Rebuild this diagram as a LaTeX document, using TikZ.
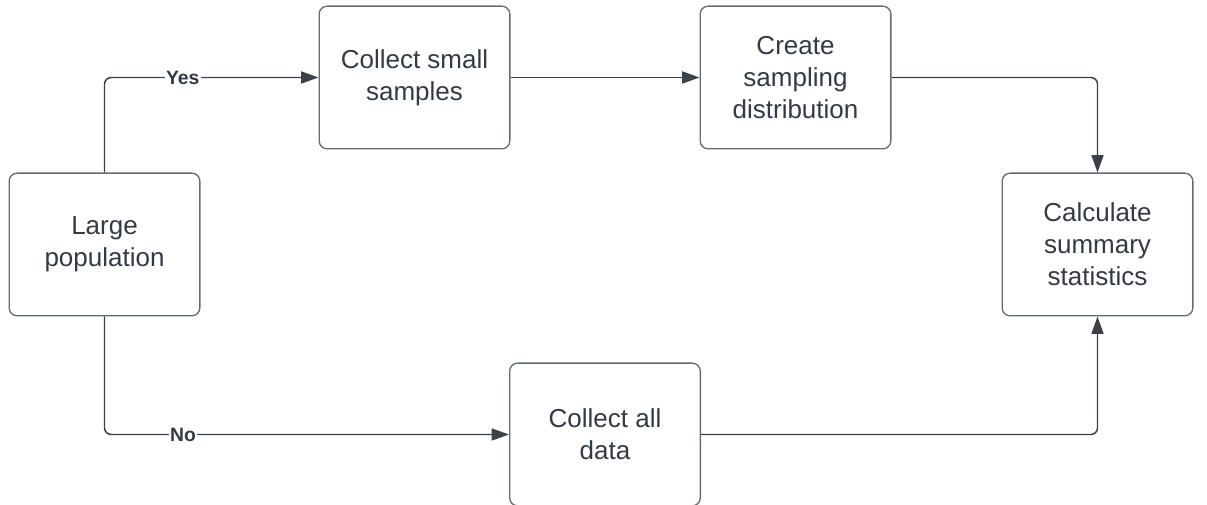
\documentclass[tikz,border=0pt]{standalone}
\usepackage{fontspec}
\setmainfont{Liberation Sans}
\usetikzlibrary{arrows.meta}
\definecolor{linegray}{HTML}{3B4049}
\definecolor{boxgray}{HTML}{656B73}
\definecolor{textgray}{HTML}{333A44}

\tikzset{every picture/.style={line width=1.1pt}}
\tikzset{stepbox/.style={draw=boxgray, line width=1pt, rounded corners=6pt, minimum width=143pt, minimum height=107pt, align=center, text=textgray, font=\fontsize{19.5}{24}\selectfont, inner sep=0pt}}
\tikzset{flow/.style={draw=linegray, rounded corners=5pt, -{Triangle[length=13pt,width=9pt]}}}
\tikzset{answer/.style={fill=white, text=textgray, font=\fontsize{14.5}{16}\selectfont\bfseries, inner sep=1pt}}

\begin{document}
\begin{tikzpicture}[x=0.75pt,y=0.75pt,yscale=-1,xscale=1]
\useasboundingbox (0,0) rectangle (1207,505);

% Boxes
\node [stepbox] (population) at (104.5,244.5) {Large\\population};
\node [stepbox] (small) at (414.5,77.5) {Collect small\\samples};
\node [stepbox] (sampling) at (795.5,77.5) {Create\\sampling\\distribution};
\node [stepbox] (summary) at (1097.5,244.5) {Calculate\\summary\\statistics};
\node [stepbox] (alldata) at (605,434.5) {Collect all\\data};

% Connectors
\draw [flow] (population.north) |- (small.west) node [answer, pos=0.683] {Yes};
\draw [flow] (small.east) -- (sampling.west);
\draw [flow] (sampling.east) -| (summary.north);
\draw [flow] (population.south) |- (alldata.west) node [answer, pos=0.597] {No};
\draw [flow] (alldata.east) -| (summary.south);

\end{tikzpicture}
\end{document}
